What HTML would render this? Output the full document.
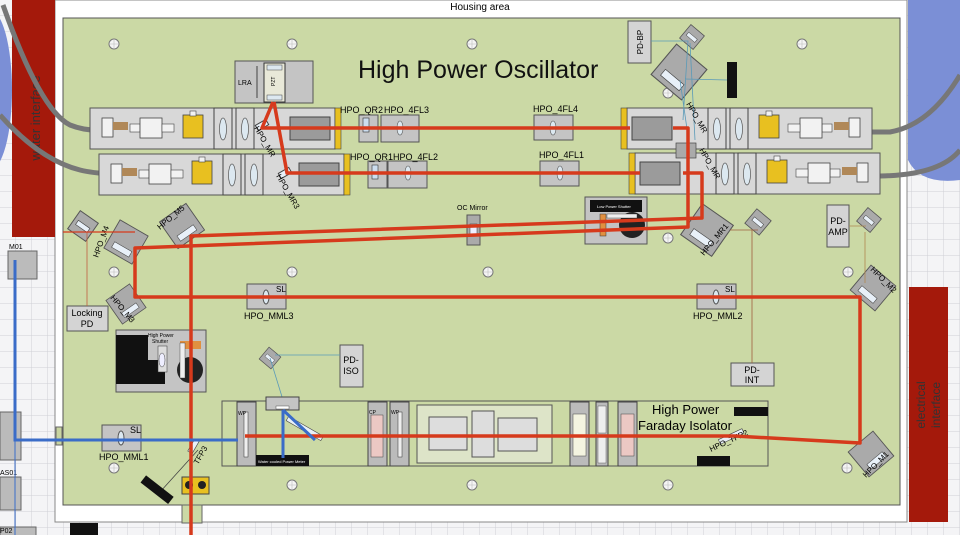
<!DOCTYPE html>
<html><head><meta charset="utf-8"><style>
html,body{margin:0;padding:0;width:960px;height:535px;overflow:hidden;background:#f2f2f4}
svg{display:block;font-family:"Liberation Sans",sans-serif}
</style></head><body>
<svg width="960" height="535" viewBox="0 0 960 535" xmlns="http://www.w3.org/2000/svg">
<defs>
<pattern id="grid" width="16" height="16" patternUnits="userSpaceOnUse">
<rect width="16" height="16" fill="#f4f4f6"/><path d="M16 0V16H0" fill="none" stroke="#cfd0d6" stroke-width="1"/>
</pattern>
<g id="head">
<rect x="0" y="0" width="245" height="41" fill="#d8d8d8" stroke="#555"/>
<rect x="12" y="10" width="11" height="19" fill="#f2f2f2" stroke="#444" stroke-width=".8"/>
<rect x="23" y="14" width="15" height="8" fill="#b08858"/>
<rect x="40" y="16" width="10" height="8" fill="#f2f2f2" stroke="#444" stroke-width=".6"/>
<rect x="50" y="10" width="22" height="20" fill="#f2f2f2" stroke="#444" stroke-width=".8"/>
<rect x="72" y="16" width="12" height="8" fill="#f2f2f2" stroke="#444" stroke-width=".6"/>
<rect x="93" y="7" width="20" height="23" fill="#e8c020" stroke="#444" stroke-width=".8"/>
<rect x="100" y="3" width="6" height="5" fill="#f2f2f2" stroke="#444" stroke-width=".6"/>
<rect x="124" y="0" width="18" height="41" fill="#d8d8d8" stroke="#444"/>
<rect x="146" y="0" width="18" height="41" fill="#d8d8d8" stroke="#444"/>
<ellipse cx="133" cy="21" rx="3.5" ry="11" fill="#dce8f0" stroke="#555" stroke-width=".7"/>
<ellipse cx="155" cy="21" rx="3.5" ry="11" fill="#dce8f0" stroke="#555" stroke-width=".7"/>
<rect x="200" y="9" width="40" height="23" fill="#9b9b9b" stroke="#444"/>
<rect x="245" y="0" width="6" height="41" fill="#e8c020" stroke="#444" stroke-width=".6"/>
</g>
<g id="mir"><rect x="-11" y="-11" width="22" height="22" fill="#aaa" stroke="#555"/><rect x="-7" y="-2" width="14" height="5" fill="#e8f0f8" stroke="#444" stroke-width=".6"/></g>
<g id="bigmir"><rect x="-18" y="-18" width="36" height="36" fill="#aaa" stroke="#555"/><rect x="-11" y="6" width="22" height="7" fill="#e8f0f8" stroke="#444" stroke-width=".6"/></g>
<g id="hole"><circle r="5" fill="#f4f4f4" stroke="#777"/><path d="M-5 0H5M0-5V5" stroke="#bbb" stroke-width=".6"/></g>
</defs>
<rect width="960" height="535" fill="url(#grid)"/>
<!-- blue areas -->
<ellipse cx="-10" cy="90" rx="22" ry="80" fill="#7b8fd6"/>
<path d="M908 0H960V180Q920 185 908 160Z" fill="#7b8fd6"/>
<!-- housing -->
<rect x="55" y="0" width="852" height="522" fill="#fff" stroke="#888"/>
<text x="480" y="10" font-size="10" text-anchor="middle">Housing area</text>
<rect x="63" y="18" width="837" height="487" fill="#cbd9a5" stroke="#555"/>
<!-- red bars -->
<rect x="12" y="0" width="43" height="237" fill="#a4190b"/>
<text transform="translate(40,118) rotate(-90)" font-size="13" text-anchor="middle" fill="#333">water interface</text>
<rect x="909" y="287" width="39" height="235" fill="#a4190b"/>
<text transform="translate(925,405) rotate(-90)" font-size="12" text-anchor="middle" fill="#333">electrical</text>
<text transform="translate(940,405) rotate(-90)" font-size="12" text-anchor="middle" fill="#333">interface</text>
<!-- left side components -->
<rect x="8" y="251" width="29" height="28" fill="#bbb" stroke="#666"/><text x="9" y="249" font-size="7">M01</text>
<rect x="0" y="412" width="21" height="48" fill="#bbb" stroke="#666"/>
<rect x="0" y="477" width="21" height="33" fill="#bbb" stroke="#666"/><text x="0" y="475" font-size="7">AS01</text>
<rect x="0" y="527" width="36" height="10" fill="#bbb" stroke="#666"/><text x="0" y="533" font-size="7">P02</text>
<rect x="56" y="427" width="6" height="18" fill="#c8d4a0" stroke="#666"/>
<rect x="70" y="523" width="28" height="12" fill="#111"/>
<rect x="182" y="505" width="20" height="18" fill="#cbd9a5" stroke="#666"/>
<!-- hoses -->
<g fill="none" stroke="#777" stroke-width="5">
<path d="M3 5Q40 110 70 125Q85 131 102 130"/>
<path d="M0 115Q40 160 80 170Q92 173 111 174"/>
<path d="M960 75Q930 125 890 132L868 132"/>
<path d="M960 150Q940 175 880 176"/>
</g>
<!-- holes -->
<g>
<use href="#hole" x="114" y="44"/><use href="#hole" x="292" y="44"/><use href="#hole" x="472" y="44"/><use href="#hole" x="802" y="44"/>
<use href="#hole" x="668" y="93"/>
<use href="#hole" x="114" y="272"/><use href="#hole" x="292" y="272"/><use href="#hole" x="488" y="272"/><use href="#hole" x="668" y="238"/><use href="#hole" x="848" y="272"/>
<use href="#hole" x="114" y="468"/><use href="#hole" x="292" y="485"/><use href="#hole" x="472" y="485"/><use href="#hole" x="668" y="485"/><use href="#hole" x="847" y="468"/>
</g>
<text x="358" y="78" font-size="25" fill="#111">High Power Oscillator</text>
<!-- LRA -->
<rect x="235" y="61" width="78" height="42" fill="#c4c4c4" stroke="#555"/>
<text x="238" y="85" font-size="7">LRA</text>
<path d="M257 66V98" stroke="#222" stroke-width=".8"/>
<rect x="264" y="63" width="21" height="39" fill="#e8e8d8" stroke="#333"/>
<rect x="267" y="65" width="15" height="5" fill="#dde8f0" stroke="#444" stroke-width=".5"/>
<rect x="267" y="95" width="15" height="5" fill="#dde8f0" stroke="#444" stroke-width=".5"/>
<text transform="translate(275,86) rotate(-90)" font-size="5">PZT</text>
<!-- laser heads -->
<use href="#head" transform="translate(90,108)"/>
<use href="#head" transform="translate(99,154)"/>
<use href="#head" transform="translate(872,108) scale(-1,1)"/>
<use href="#head" transform="translate(880,153) scale(-1,1)"/>
<!-- QR and 4FL -->
<g font-size="8">
<rect x="359" y="115" width="19" height="27" fill="#c4c4c4" stroke="#555"/><rect x="363" y="118" width="6" height="14" fill="#cde" stroke="#333" stroke-width=".6"/>
<rect x="381" y="115" width="38" height="27" fill="#c4c4c4" stroke="#555"/><ellipse cx="400" cy="128" rx="3" ry="7" fill="#dce8f0" stroke="#555" stroke-width=".6"/>
<text x="340" y="113" font-size="9">HPO_QR2</text><text x="384" y="113" font-size="9">HPO_4FL3</text>
<rect x="368" y="161" width="19" height="27" fill="#c4c4c4" stroke="#555"/><rect x="372" y="165" width="6" height="14" fill="#cde" stroke="#333" stroke-width=".6"/>
<rect x="388" y="161" width="39" height="27" fill="#c4c4c4" stroke="#555"/><ellipse cx="408" cy="173" rx="3" ry="7" fill="#dce8f0" stroke="#555" stroke-width=".6"/>
<text x="350" y="160" font-size="9">HPO_QR1</text><text x="393" y="160" font-size="9">HPO_4FL2</text>
<rect x="534" y="115" width="39" height="25" fill="#c4c4c4" stroke="#555"/><ellipse cx="553" cy="128" rx="3" ry="7" fill="#dce8f0" stroke="#555" stroke-width=".6"/>
<text x="533" y="112" font-size="9">HPO_4FL4</text>
<rect x="540" y="161" width="39" height="25" fill="#c4c4c4" stroke="#555"/><ellipse cx="560" cy="173" rx="3" ry="7" fill="#dce8f0" stroke="#555" stroke-width=".6"/>
<text x="539" y="158" font-size="9">HPO_4FL1</text>
</g>
<!-- PD-BP area -->
<rect x="628" y="21" width="23" height="42" fill="#d4d4d4" stroke="#555"/>
<text transform="translate(643,42) rotate(-90)" font-size="8" text-anchor="middle">PD-BP</text>
<use href="#mir" transform="translate(692,37) rotate(40) scale(.8)"/>
<use href="#bigmir" transform="translate(679,72) rotate(40) scale(1.1)"/>
<rect x="727" y="62" width="10" height="36" fill="#111"/>
<g stroke="#5a9ab8" stroke-width=".8" fill="none"><path d="M651 41L688 41L683 120M690 43L695 140M685 79L727 80M680 80L690 150"/></g>
<!-- shutters -->
<rect x="585" y="197" width="62" height="47" fill="#c4c4c4" stroke="#555"/>
<rect x="590" y="200" width="52" height="12" fill="#111"/><text x="597" y="208" font-size="4" fill="#fff">Low Power Shutter</text>
<circle cx="632" cy="225" r="13" fill="#222"/>
<rect x="600" y="214" width="6" height="22" fill="#e09040" stroke="#333" stroke-width=".5"/>
<rect x="607" y="214" width="30" height="4" fill="#eee" stroke="#333" stroke-width=".4"/>
<rect x="116" y="330" width="90" height="62" fill="#c4c4c4" stroke="#555"/>
<path d="M116 335H148V360H165V384H116Z" fill="#111"/>
<text x="148" y="337" font-size="5">High Power</text><text x="152" y="343" font-size="5">Shutter</text>
<rect x="158" y="346" width="9" height="26" fill="#ddd" stroke="#333" stroke-width=".5"/><ellipse cx="162" cy="360" rx="3" ry="7" fill="#eef" stroke="#444" stroke-width=".5"/>
<rect x="180" y="341" width="21" height="8" fill="#e09040"/>
<circle cx="190" cy="370" r="13" fill="#222"/><rect x="180" y="343" width="5" height="35" fill="#eee" stroke="#333" stroke-width=".4"/>
<!-- OC mirror -->
<text x="457" y="210" font-size="7">OC Mirror</text>
<rect x="467" y="215" width="13" height="30" fill="#aaa" stroke="#555"/><rect x="470" y="224" width="7" height="12" fill="#eef" stroke="#333" stroke-width=".5"/>
<!-- mirrors -->
<use href="#mir" transform="translate(83,226) rotate(35)"/>
<use href="#bigmir" transform="translate(126,242) rotate(30) scale(.9)"/>
<text transform="translate(98,258) rotate(-70)" font-size="8">HPO_M4</text>
<use href="#bigmir" transform="translate(182,226) rotate(-35) scale(.9)"/>
<text transform="translate(160,230) rotate(-40)" font-size="8">HPO_M5</text>
<use href="#bigmir" transform="translate(126,304) rotate(-35) scale(.8)"/>
<text transform="translate(110,298) rotate(50)" font-size="8">HPO_M3</text>
<use href="#bigmir" transform="translate(707,230) rotate(35) scale(1.05)"/>
<text transform="translate(704,256) rotate(-50)" font-size="8">HPO_MR1</text>
<use href="#mir" transform="translate(758,222) rotate(40) scale(.85)"/>
<use href="#mir" transform="translate(869,220) rotate(40) scale(.8)"/>
<use href="#bigmir" transform="translate(873,288) rotate(40) scale(.9)"/>
<text transform="translate(870,270) rotate(45)" font-size="8">HPO_M2</text>
<use href="#bigmir" transform="translate(871,454) rotate(-40) scale(.9)"/>
<text transform="translate(866,478) rotate(-45)" font-size="8">HPO_M1</text>
<use href="#mir" transform="translate(270,358) rotate(40) scale(.7)"/>
<!-- small MR mirrors -->
<rect x="676" y="143" width="20" height="15" fill="#aaa" stroke="#444" stroke-width=".7"/>
<rect x="256" y="122" width="12" height="6" fill="#e8f0f8" stroke="#444" transform="rotate(-30 262 125)"/>
<rect x="279" y="170" width="12" height="6" fill="#e8f0f8" stroke="#444" transform="rotate(-30 285 173)"/>
<text transform="translate(254,128) rotate(60)" font-size="8">HPO_MR</text>
<text transform="translate(276,176) rotate(60)" font-size="8">HPO_MR3</text>
<text transform="translate(686,104) rotate(60)" font-size="8">HPO_MR</text>
<text transform="translate(699,150) rotate(60)" font-size="8">HPO_MR</text>
<!-- PD boxes -->
<g font-size="9" text-anchor="middle">
<rect x="827" y="205" width="22" height="42" fill="#d4d4d4" stroke="#555"/><text x="838" y="224">PD-</text><text x="838" y="235">AMP</text>
<rect x="67" y="306" width="41" height="25" fill="#d4d4d4" stroke="#555"/><text x="87" y="316">Locking</text><text x="87" y="327">PD</text>
<rect x="340" y="345" width="23" height="42" fill="#d4d4d4" stroke="#555"/><text x="351" y="363">PD-</text><text x="351" y="374">ISO</text>
<rect x="731" y="363" width="43" height="23" fill="#d4d4d4" stroke="#555"/><text x="752" y="373">PD-</text><text x="752" y="383">INT</text>
</g>
<!-- SL lenses MML -->
<g font-size="9">
<rect x="247" y="284" width="39" height="25" fill="#c4c4c4" stroke="#555"/><ellipse cx="266" cy="297" rx="3" ry="7" fill="#dce8f0" stroke="#555"/><text x="276" y="292" font-size="8">SL</text><text x="244" y="319">HPO_MML3</text>
<rect x="697" y="284" width="39" height="25" fill="#c4c4c4" stroke="#555"/><ellipse cx="716" cy="297" rx="3" ry="7" fill="#dce8f0" stroke="#555"/><text x="725" y="292" font-size="8">SL</text><text x="693" y="319">HPO_MML2</text>
<rect x="102" y="425" width="39" height="26" fill="#c4c4c4" stroke="#555"/><ellipse cx="121" cy="438" rx="3" ry="7" fill="#dce8f0" stroke="#555"/><text x="130" y="433">SL</text><text x="99" y="460">HPO_MML1</text>
</g>
<!-- thin connector lines -->
<g fill="none" stroke-width=".8">
<path d="M87 306V232" stroke="#c06040"/>
<path d="M758 230H730M752 363V230" stroke="#a06040"/>
<path d="M849 226H866M865 232V283" stroke="#b08850"/>
<path d="M270 358L283 400M275 355H340" stroke="#5a9ab8"/>
<path d="M160 492L198 450" stroke="#444"/>
</g>
<!-- isolator -->
<rect x="222" y="401" width="546" height="65" fill="#cbd9a5" stroke="#555"/>
<rect x="237" y="402" width="19" height="64" fill="#bbb" stroke="#444"/><rect x="244" y="412" width="4" height="45" fill="#eee" stroke="#333" stroke-width=".5"/>
<text x="238" y="415" font-size="5">WP</text>
<rect x="266" y="397" width="33" height="13" fill="#c4c4c4" stroke="#444"/>
<rect x="276" y="406" width="13" height="3" fill="#fff" stroke="#333" stroke-width=".4"/>
<rect x="256" y="455" width="53" height="11" fill="#111"/><text x="258" y="463" font-size="4" fill="#fff">Water cooled Power Meter</text>
<rect x="368" y="402" width="19" height="64" fill="#bbb" stroke="#444"/><rect x="371" y="415" width="12" height="42" fill="#ecc8c4" stroke="#444" stroke-width=".5"/>
<rect x="390" y="402" width="19" height="64" fill="#bbb" stroke="#444"/><rect x="398" y="412" width="4" height="45" fill="#eee" stroke="#333" stroke-width=".5"/>
<text x="369" y="414" font-size="5">CP</text><text x="391" y="414" font-size="5">WP</text>
<rect x="417" y="405" width="135" height="58" fill="#dde4c8" stroke="#555"/>
<rect x="429" y="417" width="38" height="33" fill="#ddd" stroke="#555"/>
<rect x="472" y="411" width="22" height="46" fill="#ddd" stroke="#555"/>
<rect x="498" y="418" width="39" height="33" fill="#ddd" stroke="#555"/>
<rect x="570" y="402" width="19" height="64" fill="#bbb" stroke="#444"/><rect x="573" y="414" width="13" height="42" fill="#f4f4e0" stroke="#444" stroke-width=".5"/>
<rect x="596" y="402" width="12" height="64" fill="#bbb" stroke="#444"/><rect x="598" y="406" width="8" height="27" fill="#eee" stroke="#444" stroke-width=".4"/><rect x="598" y="437" width="8" height="26" fill="#eee" stroke="#444" stroke-width=".4"/>
<rect x="618" y="402" width="19" height="64" fill="#bbb" stroke="#444"/><rect x="621" y="414" width="13" height="42" fill="#ecc8c4" stroke="#444" stroke-width=".5"/>
<text x="652" y="414" font-size="13">High Power</text>
<text x="638" y="430" font-size="13">Faraday Isolator</text>
<rect x="734" y="407" width="34" height="9" fill="#111"/>
<rect x="697" y="456" width="33" height="10" fill="#111"/>
<rect x="718" y="434" width="26" height="5" fill="#e8f0f8" stroke="#444" stroke-width=".6" transform="rotate(-25 731 436)"/>
<text transform="translate(711,452) rotate(-25)" font-size="8">HPO_TFP2</text>
<rect x="285" y="426" width="40" height="5" fill="#e8f0f8" stroke="#444" stroke-width=".6" transform="rotate(30 305 428)"/>
<text transform="translate(198,465) rotate(-60)" font-size="8">TFP3</text>
<rect x="186" y="444" width="14" height="5" fill="#e8f0f8" stroke="#444" stroke-width=".6" transform="rotate(-60 193 446)"/>
<rect x="140" y="485" width="35" height="9" fill="#111" transform="rotate(38 157 489)"/>
<rect x="182" y="477" width="27" height="17" fill="#e8c020" stroke="#444"/><circle cx="189" cy="485" r="4" fill="#222"/><circle cx="202" cy="485" r="4" fill="#222"/>
<!-- red beams -->
<g fill="none" stroke="#d63a1c" stroke-width="3.5" stroke-linejoin="round">
<path d="M273 102L262 128H630"/>
<path d="M274 102L287 173H640"/>
<path d="M673 128H688V227L135 248V297H860V443L735 436H245"/>
<path d="M683 173H702V218L191 236V535"/>
</g>
<g fill="none" stroke="#d63a1c" stroke-width="1.2"><path d="M63 232H135"/></g>
<!-- blue beams -->
<g fill="none" stroke="#3a6cc8" stroke-width="3">
<path d="M15 260V440H238"/>
<path d="M283 410V458M283 410L315 440"/>
</g>
<path d="M15 440V535" stroke="#3a6cc8" stroke-width="1"/>
</svg>
</body></html>
